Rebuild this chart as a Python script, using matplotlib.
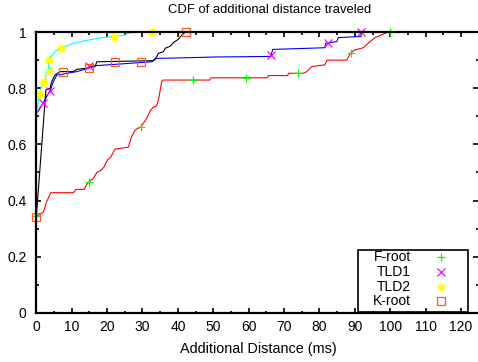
import numpy as np
import matplotlib
matplotlib.use('Agg')
import matplotlib.pyplot as plt
from matplotlib.patches import Rectangle

plt.rcParams['font.family'] = ['Liberation Sans', 'DejaVu Sans']

# curves (x = additional distance in ms, y = CDF)
froot_x = [0, 1, 2, 2.9, 4.1, 10.5, 11.2, 13.5, 14.4, 15.2, 16.1, 17.1, 18.2, 19.1, 20.1, 21,
           22.2, 26, 26.9, 27.9, 29.6, 31.2, 32.3, 33, 34, 34.7, 35.4, 35.9, 49, 49.3, 65.3, 65.6,
           71, 71.3, 75.5, 76.4, 77.8, 81.5, 82.2, 87.7, 88.8, 90, 92.4, 94.3, 95.7, 98.5, 99.4, 100]
froot_y = [0.345, 0.35, 0.36, 0.396, 0.428, 0.428, 0.44, 0.44, 0.46, 0.47, 0.479, 0.5, 0.507, 0.519,
           0.545, 0.554, 0.583, 0.59, 0.627, 0.651, 0.663, 0.693, 0.722, 0.732, 0.737, 0.77, 0.823,
           0.829, 0.829, 0.837, 0.837, 0.845, 0.845, 0.853, 0.853, 0.859, 0.877, 0.883, 0.9, 0.9,
           0.925, 0.936, 0.944, 0.966, 0.98, 0.995, 1.0, 1.0]
froot_mx = [0, 14.9, 29.6, 44.3, 59.2, 74, 88.8, 100]
froot_my = [0.345, 0.465, 0.663, 0.829, 0.837, 0.853, 0.925, 1.0]

tld1_x = [0, 0.6, 1.9, 2.9, 3.9, 4.8, 5.8, 7.2, 8.6, 11.4, 14.7, 15, 16.6, 32.6, 34, 47.7, 50.5,
          66, 66.3, 66.8, 81.5, 81.8, 84.9, 85.3, 91.7, 91.9]
tld1_y = [0.71, 0.72, 0.747, 0.77, 0.79, 0.823, 0.847, 0.849, 0.853, 0.859, 0.871, 0.877, 0.88,
          0.894, 0.906, 0.91, 0.911, 0.913, 0.917, 0.938, 0.944, 0.96, 0.966, 0.98, 0.984, 1.0]
tld1_mx = [1.9, 3.9, 15, 66.3, 82.5, 91.7]
tld1_my = [0.747, 0.79, 0.878, 0.917, 0.96, 1.0]

tld2_x = [0, 0.5, 0.9, 1.3, 1.8, 2.5, 2.9, 3.4, 3.5, 4.1, 4.6, 5.3, 6.7, 8.6, 10.5, 13.3, 17.1,
          20.8, 25, 26, 27, 32.8]
tld2_y = [0.70, 0.75, 0.776, 0.80, 0.821, 0.83, 0.86, 0.862, 0.9, 0.912, 0.92, 0.93, 0.942, 0.951,
          0.96, 0.968, 0.977, 0.983, 0.989, 0.995, 1.0, 1.0]
tld2_mx = [0.9, 2.2, 3.5, 3.5, 7.0, 22, 32.8]
tld2_my = [0.778, 0.821, 0.86, 0.901, 0.942, 0.983, 1.0]

kroot_x = [0, 2.5, 2.7, 3.9, 4.3, 5.3, 6.7, 10.5, 11.4, 14.2, 16.6, 17.1, 33, 34, 34.5, 35.9,
           36.4, 37.8, 38.7, 40.1, 41.1, 42.2]
kroot_y = [0.343, 0.76, 0.794, 0.80, 0.823, 0.847, 0.859, 0.859, 0.867, 0.871, 0.877, 0.894, 0.898,
           0.912, 0.924, 0.93, 0.942, 0.949, 0.962, 0.974, 0.989, 1.0]
kroot_mx = [0, 7.5, 14.9, 22.2, 29.6, 42.2]
kroot_my = [0.343, 0.857, 0.871, 0.894, 0.894, 1.0]

names = ['F-root', 'TLD1', 'TLD2', 'K-root']

orange = '#ff5a1e'
fs = 10
fig = plt.figure(figsize=(4.78, 3.62), dpi=100)
ax = fig.add_axes([0.076, 0.1354, 0.924, 0.7762])

ax.plot(froot_x, froot_y, color='#ff0000', lw=0.8)
ax.plot(tld1_x, tld1_y, color='#0000ff', lw=0.8)
ax.plot(tld2_x, tld2_y, color='#00ffff', lw=0.8)
ax.plot(kroot_x, kroot_y, color='black', lw=0.8)

mk = [('+', '#00ff00', froot_mx, froot_my),
      ('x', '#ff00ff', tld1_mx, tld1_my),
      ((8, 2, 0), '#ffff00', tld2_mx, tld2_my),
      ('s', orange, kroot_mx, kroot_my)]
for m, c, mx, my in mk:
    if m == 's':
        ax.plot(mx, my, ls='none', marker=m, ms=5.5, mfc='none', mec=c, mew=0.9, clip_on=False)
    else:
        ax.plot(mx, my, ls='none', marker=m, ms=6, color=c, mew=0.9, clip_on=False)

ax.set_xlim(0, 124.8)
ax.set_ylim(0, 1)
ax.set_xticks(np.arange(0, 121, 10))
ax.set_xticks(np.arange(0, 125, 5), minor=True)
ax.set_yticks([0, 0.2, 0.4, 0.6, 0.8, 1])
ax.set_yticklabels(['0', '0.2', '0.4', '0.6', '0.8', '1'])
ax.set_yticks(np.arange(0, 1.01, 0.1), minor=True)
ax.tick_params(which='both', direction='in', top=True, right=True, width=1.2, labelsize=fs)
ax.tick_params(which='major', length=3.5)
ax.tick_params(which='minor', length=1.8)
ax.tick_params(axis='x', pad=5)
ax.tick_params(axis='y', pad=7)
for s in ['left', 'bottom', 'top']:
    ax.spines[s].set_linewidth(1.6)
ax.spines['right'].set_visible(False)

# legend box, gnuplot style (text right aligned, sample on the right)
ax.add_patch(Rectangle((0.729, 0.005), 0.249, 0.219, transform=ax.transAxes,
                       fill=False, ec='black', lw=1.2, zorder=5))
ly = [0.2, 0.145, 0.094, 0.043]
for i, (m, c, mx, my) in enumerate(mk):
    ax.text(0.848, ly[i], names[i], transform=ax.transAxes, ha='right', va='center', fontsize=fs)
    if m == 's':
        ax.plot([0.9155], [ly[i]], transform=ax.transAxes, marker=m, ms=5.5, mfc='none',
                mec=c, mew=0.9, ls='none')
    else:
        ax.plot([0.9155], [ly[i]], transform=ax.transAxes, marker=m, ms=6, color=c,
                mew=0.9, ls='none')

fig.text(0.564, 0.972, 'CDF of additional distance traveled', ha='center', va='center', fontsize=9.4)
fig.text(0.541, 0.035, 'Additional Distance (ms)', ha='center', va='center', fontsize=10.4)

fig.savefig('out.png', dpi=100)
